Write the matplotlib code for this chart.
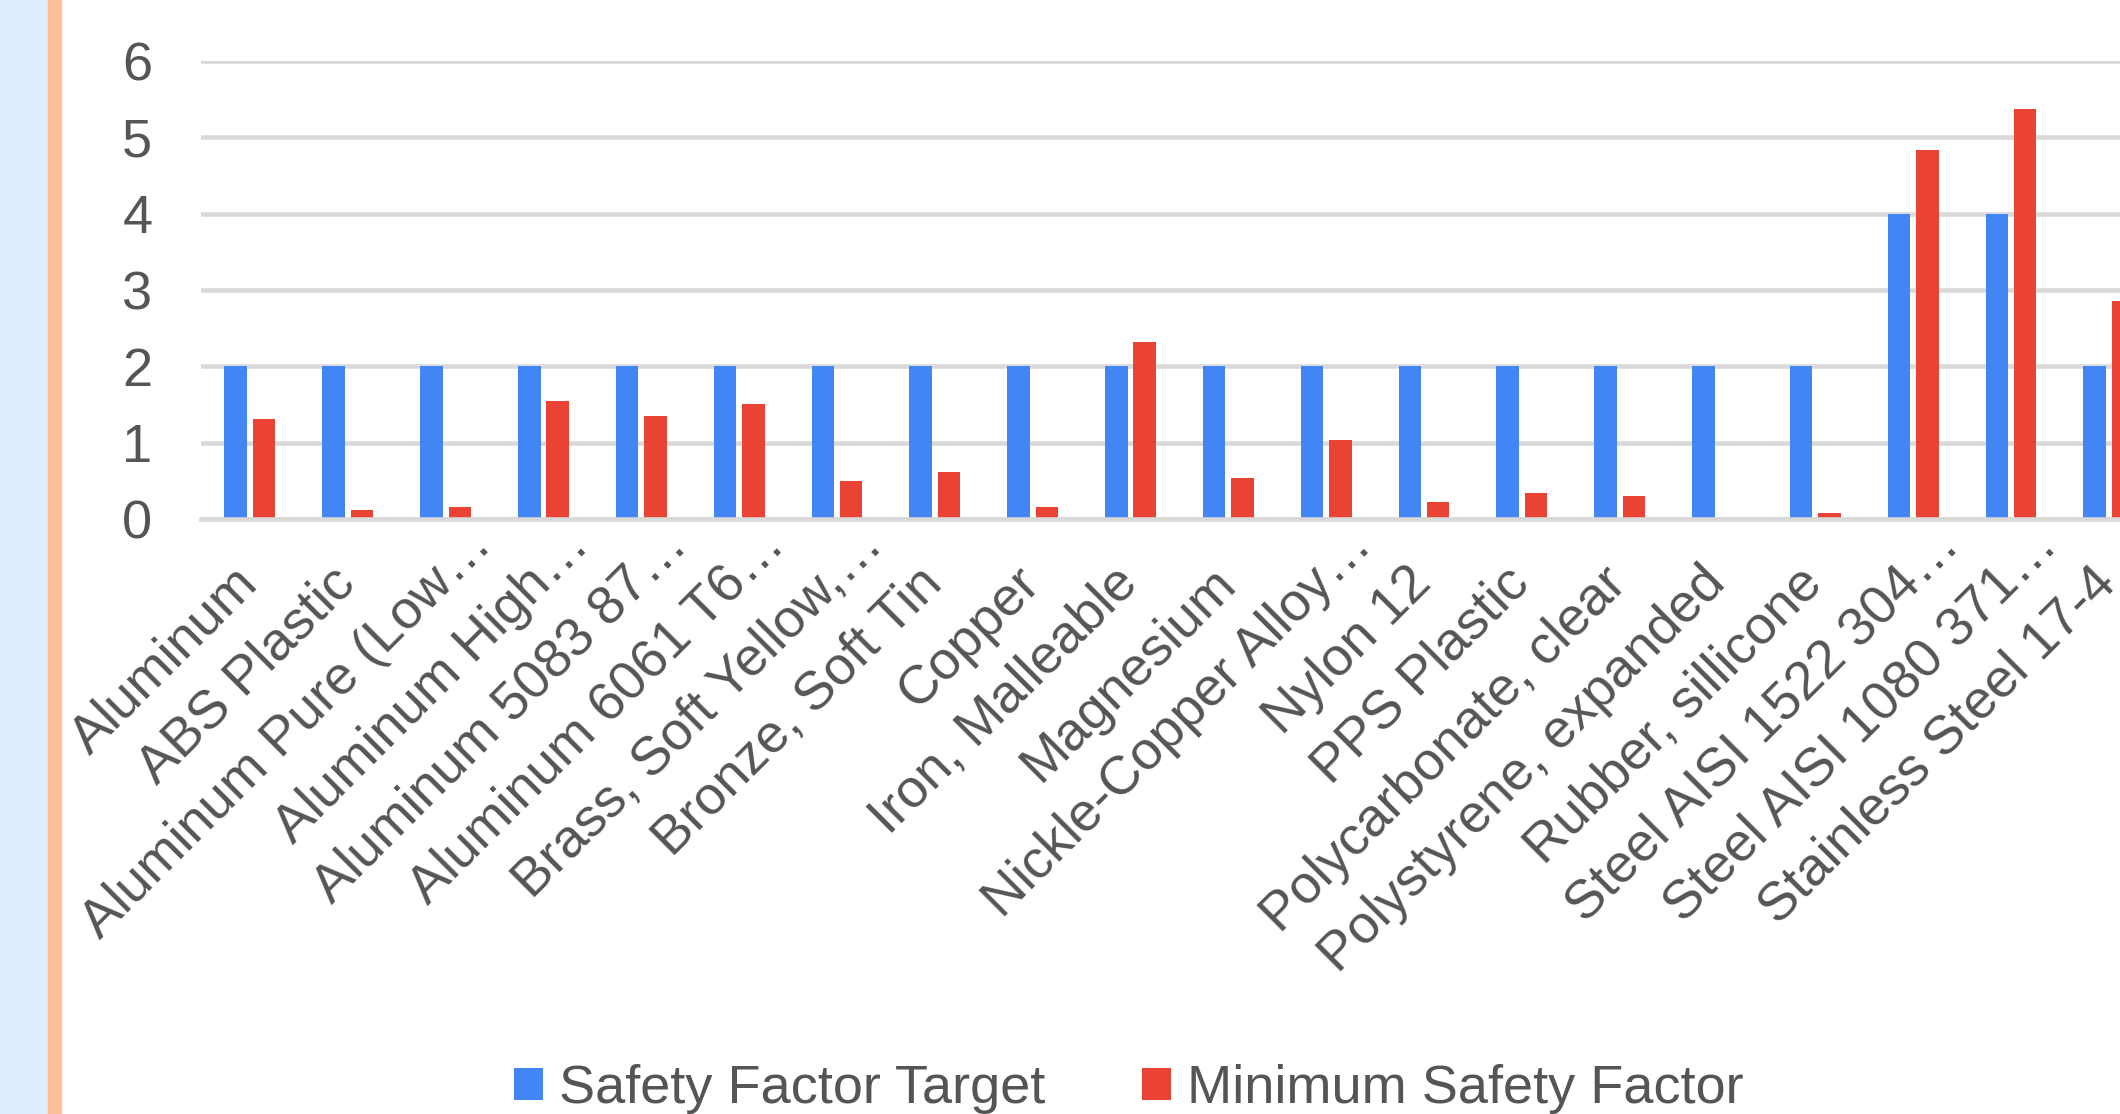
import matplotlib.pyplot as plt
from matplotlib.patches import Rectangle
import matplotlib.transforms as mtransforms
import numpy as np

plt.rcParams['font.family'] = ['Liberation Sans', 'DejaVu Sans']

# data
materials = ["Aluminum", "ABS Plastic", "Aluminum Pure (Low…", "Aluminum High…",
             "Aluminum 5083 87…", "Aluminum 6061 T6…", "Brass, Soft Yellow,…",
             "Bronze, Soft Tin", "Copper", "Iron, Malleable", "Magnesium",
             "Nickle-Copper Alloy…", "Nylon 12", "PPS Plastic",
             "Polycarbonate, clear", "Polystyrene, expanded", "Rubber, sillicone",
             "Steel AISI 1522 304…", "Steel AISI 1080 371…", "Stainless Steel 17-4"]
target_sf = [2, 2, 2, 2, 2, 2, 2, 2, 2, 2, 2, 2, 2, 2, 2, 2, 2, 4, 4, 2]
min_sf = [1.31, 0.12, 0.16, 1.54, 1.35, 1.51, 0.50, 0.61, 0.16, 2.32, 0.54,
          1.04, 0.22, 0.34, 0.30, 0.0, 0.08, 4.84, 5.37, 2.85]
yticks = [0, 1, 2, 3, 4, 5, 6]

BLUE = '#4285f4'
RED = '#ea4335'
TXT = '#555555'
GRID = '#d9d9d9'
FS = 39

W, H = 2120, 1114
fig = plt.figure(figsize=(W / 100, H / 100), dpi=100, facecolor='white')

# side strip on the left (light blue panel + peach border)
fig.patches.append(Rectangle((0, 0), 48 / W, 1, transform=fig.transFigure,
                             color='#ddeffe', zorder=0))
fig.patches.append(Rectangle((48 / W, 0), 13 / W, 1, transform=fig.transFigure,
                             color='#fcbf96', zorder=0))

y0, y6 = 518.9, 61.1
ax = fig.add_axes([201 / W, (H - y0) / H, 1 - 201 / W, (y0 - y6) / H])
ax.patch.set_alpha(0)

x = np.arange(len(materials))
bw = 0.23
ax.bar(x - 0.145, target_sf, bw, color=BLUE, label='Safety Factor Target', zorder=2)
ax.bar(x + 0.145, min_sf, bw, color=RED, label='Minimum Safety Factor', zorder=2)

step = 97.84
ax.set_xlim(-0.5, (W - 201) / step - 0.5)
ax.set_ylim(0, 6)
ax.set_yticks(yticks)
ax.set_yticklabels([str(v) for v in yticks])

ax.yaxis.grid(True, color=GRID, linewidth=3.3)
ax.set_axisbelow(True)
ax.axhline(0, color=GRID, linewidth=3.3, zorder=3, clip_on=False)
for s in ax.spines.values():
    s.set_visible(False)

ax.set_xticks(x)
ax.set_xticklabels([])
ax.tick_params(axis='x', length=0)
ax.tick_params(axis='y', length=0, pad=35, labelsize=FS, labelcolor=TXT)

# category labels: text before the ellipsis ends under the group, the "…" sticks out
trans = mtransforms.blended_transform_factory(ax.transData, ax.transAxes)
c45 = np.cos(np.radians(45))
for i, name in enumerate(materials):
    dx, dy = -13, -28
    if name.endswith('…'):
        dx += FS * c45
        dy += FS * c45
    ax.annotate(name, xy=(i, 0), xycoords=trans, xytext=(dx, dy),
                textcoords='offset points', rotation=45, rotation_mode='anchor',
                ha='right', va='top', fontsize=FS, color=TXT, annotation_clip=False)

fig.legend(loc='center', bbox_to_anchor=(0.5325, 0.0226), ncol=2, frameon=False,
           fontsize=FS, handlelength=0.54, handleheight=0.54,
           handletextpad=0.3, columnspacing=1.78, labelcolor=TXT)

fig.savefig('out.png', dpi=100)
